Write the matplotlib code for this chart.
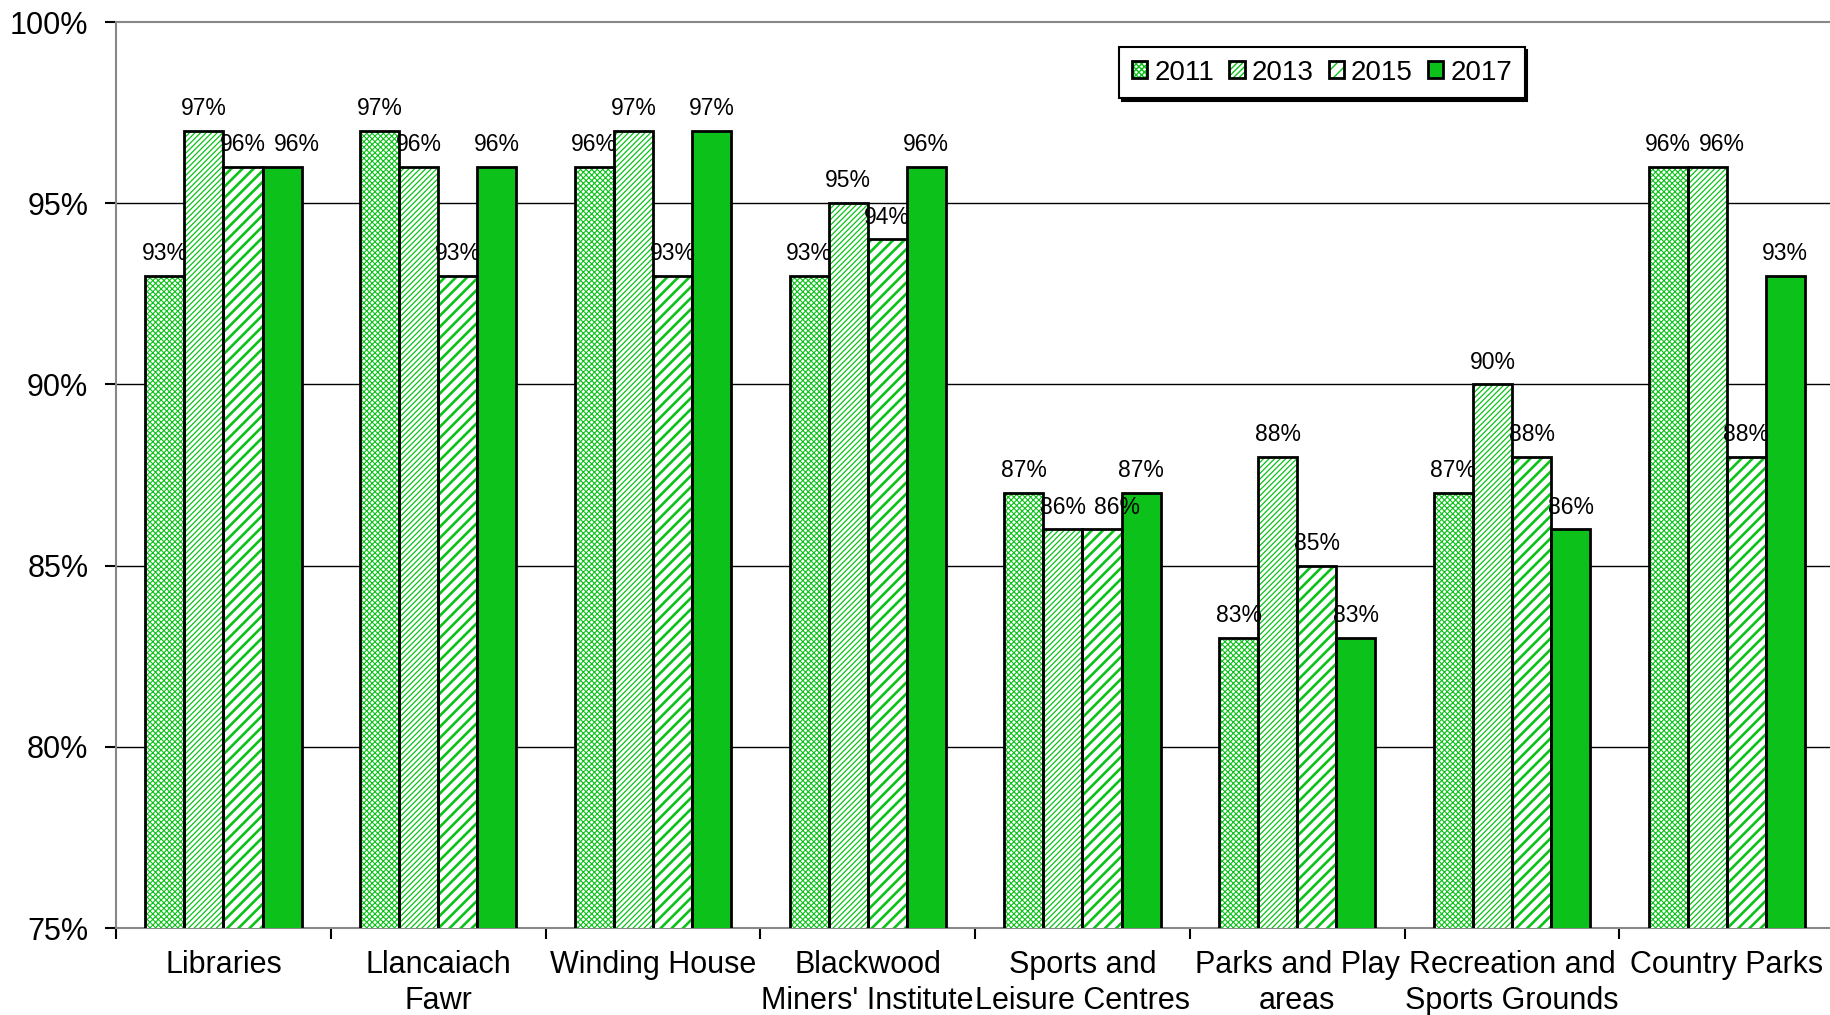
import numpy as np
import matplotlib
matplotlib.use('Agg')
import matplotlib.pyplot as plt
from matplotlib.patches import Patch

plt.rcParams['font.family'] = ['Liberation Sans', 'DejaVu Sans']

# Satisfaction by service and survey year (percent)
categories = ['Libraries', 'Llancaiach\nFawr', 'Winding House', 'Blackwood\nMiners\' Institute',
              'Sports and\nLeisure Centres', 'Parks and Play\nareas', 'Recreation and\nSports Grounds',
              'Country Parks']
years = ['2011', '2013', '2015', '2017']
v2011 = [93, 97, 96, 93, 87, 83, 87, 96]
v2013 = [97, 96, 97, 95, 86, 88, 90, 96]
v2015 = [96, 93, 93, 94, 86, 85, 88, 88]
v2017 = [96, 96, 97, 96, 87, 83, 86, 93]
yticks = [75, 80, 85, 90, 95, 100]

GREEN = '#0CC21A'
series = [v2011, v2013, v2015, v2017]
# hatch pattern, hatch line width per year
styles = [('xxxxxx', 0.8), ('//////', 0.9), ('///', 1.9), (None, 1.0)]

fig = plt.figure(figsize=(18.31, 10.15), dpi=100)
ax = fig.add_axes([0.0634, 0.0857, 0.9383, 0.8926])

x = np.arange(len(categories))
w = 0.182
handles = []
for i, (vals, (hatch, hlw)) in enumerate(zip(series, styles)):
    pos = x + (i - 1.5) * w
    plt.rcParams['hatch.linewidth'] = hlw
    if hatch is None:
        ax.bar(pos, vals, w, color=GREEN, edgecolor='black', linewidth=2, zorder=3)
        handles.append(Patch(facecolor=GREEN, edgecolor='black', linewidth=2))
    else:
        ax.bar(pos, vals, w, facecolor='white', edgecolor=GREEN, hatch=hatch, linewidth=0, zorder=3)
        ax.bar(pos, vals, w, fill=False, edgecolor='black', linewidth=2, zorder=4)
        handles.append((Patch(facecolor='white', edgecolor=GREEN, hatch=hatch, linewidth=0),
                        Patch(fill=False, edgecolor='black', linewidth=2)))

# value labels; nudge a label right when the bar to its left has the same value
for i, vals in enumerate(series):
    for j, v in enumerate(vals):
        px = x[j] + (i - 1.5) * w
        if i > 0 and series[i - 1][j] == v:
            px += 0.07
        ax.text(px, v + 0.3, f'{v}%', ha='center', va='bottom', fontsize=16.5, zorder=5)

ax.set_xlim(-0.5, len(categories) - 0.5)
ax.set_ylim(75, 100)
ax.set_yticks(yticks)
ax.set_yticklabels([f'{t}%' for t in yticks], fontsize=22)
for t in yticks[1:-1]:
    ax.axhline(t, color='black', linewidth=1, zorder=1)

ax.set_xticks(np.arange(len(categories) + 1) - 0.5)
ax.set_xticklabels([])
ax.set_xticks(x, minor=True)
ax.set_xticklabels(categories, minor=True, fontsize=22, linespacing=1.25)
ax.tick_params(axis='x', which='minor', length=0, pad=16)
ax.tick_params(axis='x', which='major', length=8, width=1.5, direction='out')
ax.tick_params(axis='y', length=8, width=1.5, direction='out', pad=12)

for s in ['left', 'bottom', 'top']:
    ax.spines[s].set_color('#888888')
    ax.spines[s].set_linewidth(1.5)
ax.spines['right'].set_visible(False)

leg = ax.legend(handles, years, loc='upper left', bbox_to_anchor=(0.584, 0.9724), ncol=4,
                fontsize=20, frameon=True, fancybox=False, handlelength=0.55, handleheight=0.55,
                handletextpad=0.25, columnspacing=0.55, borderpad=0.45, borderaxespad=0,
                shadow={'color': 'black', 'alpha': 1})
leg.get_frame().set_edgecolor('black')
leg.get_frame().set_linewidth(1.5)

fig.savefig('out.png', dpi=100)
